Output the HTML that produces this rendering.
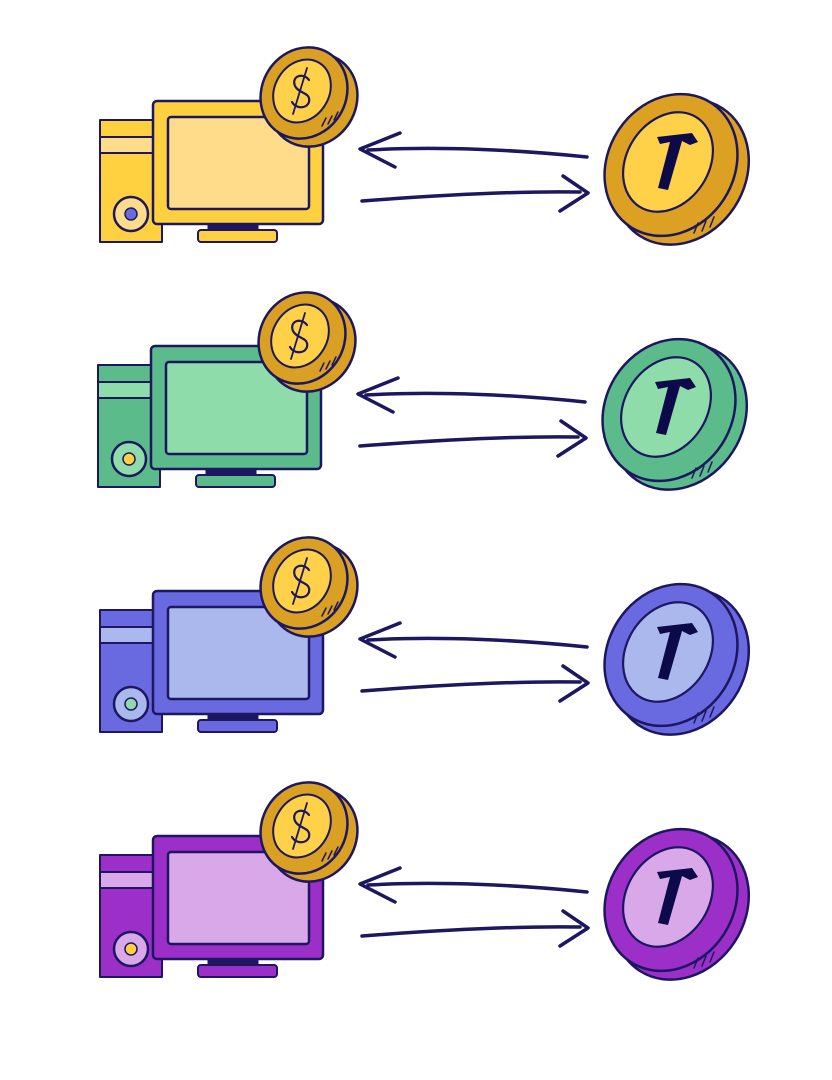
<!DOCTYPE html>
<html><head><meta charset="utf-8"><style>html,body{margin:0;padding:0;background:#fff}svg{display:block}</style></head>
<body>
<svg width="832" height="1080" viewBox="0 0 832 1080" xmlns="http://www.w3.org/2000/svg">
<defs>
<g id="row" stroke="#1c1760" stroke-linejoin="round" stroke-linecap="round">
  <rect x="100" y="120" width="62" height="122" fill="var(--a)" stroke-width="2"/>
  <rect x="100" y="137" width="62" height="16" fill="var(--b)" stroke-width="2"/>
  <circle cx="131" cy="214" r="17" fill="var(--b)" stroke-width="2.5"/>
  <circle cx="131" cy="214" r="6" fill="var(--c)" stroke-width="1.5"/>
  <rect x="208" y="222" width="50" height="10" fill="#1c1760"/>
  <rect x="198" y="230" width="79" height="12" rx="3" fill="var(--a)" stroke-width="2"/>
  <rect x="153" y="101" width="170" height="123" rx="4" fill="var(--a)" stroke-width="2.5"/>
  <rect x="168" y="117" width="141" height="92" rx="3" fill="var(--b)" stroke-width="2.5"/>
  <ellipse cx="313" cy="100" rx="43" ry="48" transform="rotate(32 313 100)" fill="#d9a024" stroke-width="2.5"/>
  <ellipse cx="304" cy="93" rx="42" ry="47" transform="rotate(32 304 93)" fill="#d9a024" stroke-width="2.5"/>
  <ellipse cx="302" cy="91" rx="27" ry="33" transform="rotate(32 302 91)" fill="#ffd148" stroke-width="2"/>
  <path d="M309 80 C303 72 291 76 295 86 C299 94 311 92 309 102 C306 110 295 108 292 102" fill="none" stroke-width="2.2"/>
  <path d="M307 68 L293 114" fill="none" stroke-width="1.8"/>
  <path d="M322 126 l4 -8 M328 124 l4 -8 M334 120 l4 -8" fill="none" stroke-width="1.5"/>
  <path d="M587 157 C520 150 440 146 368 150" fill="none" stroke-width="3.5"/>
  <path d="M400 133 L360 149 L395 167" fill="none" stroke-width="3.5"/>
  <path d="M362 201 C440 195 520 191 580 192" fill="none" stroke-width="3.5"/>
  <path d="M563 176 L588 193 L560 211" fill="none" stroke-width="3.5"/>
  <ellipse cx="681" cy="172" rx="64" ry="76" transform="rotate(33 681 172)" fill="var(--d)" stroke-width="2.5"/>
  <ellipse cx="671" cy="165" rx="63" ry="74" transform="rotate(33 671 165)" fill="var(--d)" stroke-width="2.5"/>
  <ellipse cx="668" cy="162" rx="41" ry="53" transform="rotate(33 668 162)" fill="var(--e)" stroke-width="2.2"/>
  <path d="M657 137 L692 133 L698 142 L690 145 L682 141 L668 190 L658 188 L670 142 L660 144 Z" fill="#0d0a4a" stroke="none"/>
  <path d="M694 233 l4 -10 M702 231 l4 -10 M710 227 l4 -10" fill="none" stroke-width="1.5"/>
</g>
</defs>
<use href="#row" style="--a:#ffd03f;--b:#ffdc8a;--c:#6b6be0;--d:#dca022;--e:#ffd148"/>
<use href="#row" transform="translate(-2 245)" style="--a:#5cbb8a;--b:#8edcaa;--c:#ffd03f;--d:#5cbb8a;--e:#8edcaa"/>
<use href="#row" transform="translate(0 490)" style="--a:#6a6ae0;--b:#aab8ee;--c:#8edcaa;--d:#6a6ae0;--e:#aab8ee"/>
<use href="#row" transform="translate(0 735)" style="--a:#9b2fc8;--b:#d8a8e8;--c:#ffd03f;--d:#9b2fc8;--e:#d8a8e8"/>
</svg>
</body></html>
